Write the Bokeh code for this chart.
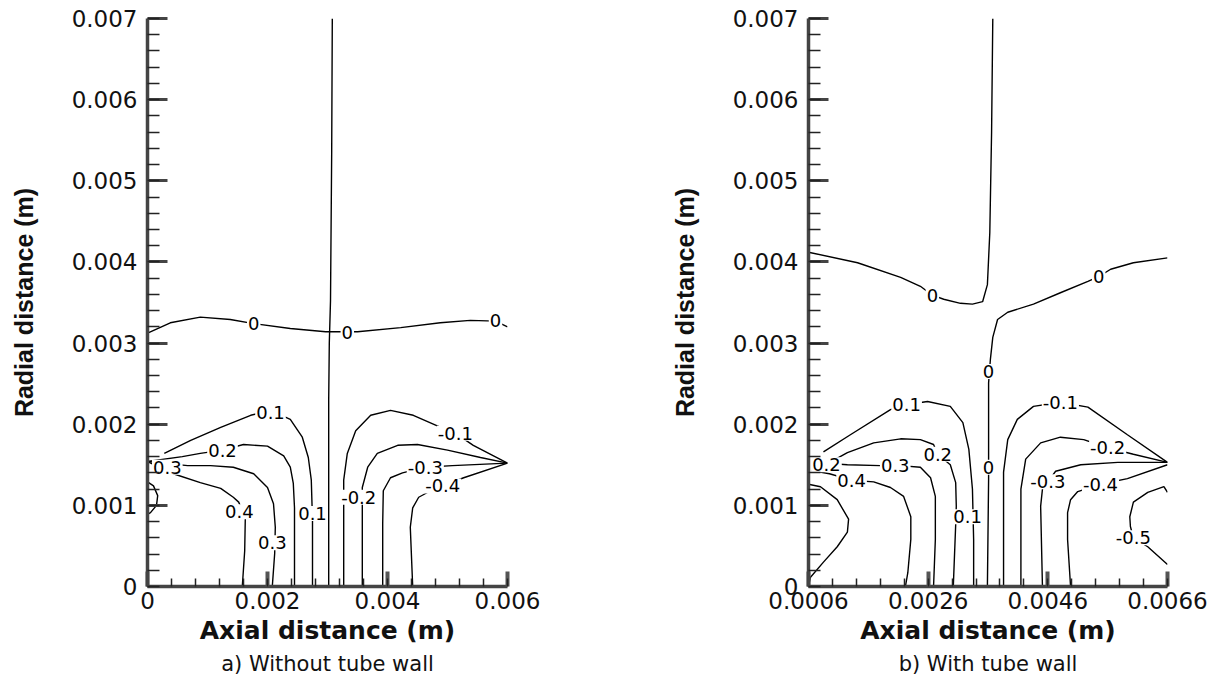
import numpy as np
from bokeh.plotting import figure
from bokeh.layouts import row
from bokeh.models import FixedTicker, Title, Range1d
from bokeh.core.properties import value
from bokeh.embed import file_html
from bokeh.resources import INLINE

MM = 1e-3  # all contour coordinates below are given in millimetres

# ---------------- Panel a) Without tube wall ----------------
A_ZERO_H_X = [0.02, 0.38, 0.88, 1.38, 1.77, 2.38, 2.97, 3.05, 3.5, 4.22, 4.88, 5.38, 5.8, 6.0]
A_ZERO_H_Y = [3.13, 3.25, 3.32, 3.29, 3.24, 3.18, 3.14, 3.14, 3.14, 3.19, 3.25, 3.28, 3.27, 3.20]
A_ZERO_V_X = [3.08, 3.07, 3.05, 3.03, 3.02, 3.02]
A_ZERO_V_Y = [7.0, 5.37, 3.52, 3.0, 2.29, 0.0]
A_P01_X = [0.28, 0.72, 1.22, 1.72, 2.05, 2.38, 2.58, 2.68, 2.73, 2.75, 2.75]
A_P01_Y = [1.64, 1.80, 1.96, 2.11, 2.17, 2.06, 1.84, 1.59, 1.31, 0.81, 0.0]
A_P02_X = [0.0, 0.58, 0.88, 1.25, 1.6, 2.0, 2.27, 2.38, 2.43, 2.45, 2.45]
A_P02_Y = [1.54, 1.60, 1.64, 1.68, 1.75, 1.73, 1.61, 1.47, 1.27, 0.97, 0.0]
A_P03_X = [0.0, 0.67, 1.05, 1.43, 1.77, 2.0, 2.1, 2.13, 2.12, 2.08]
A_P03_Y = [1.54, 1.49, 1.49, 1.47, 1.39, 1.22, 1.02, 0.73, 0.41, 0.0]
A_P04_X = [0.0, 0.43, 0.88, 1.22, 1.43, 1.52, 1.63, 1.62, 1.58]
A_P04_Y = [1.54, 1.39, 1.28, 1.21, 1.10, 1.04, 0.84, 0.44, 0.0]
A_P05_X = [0.0, 0.1, 0.17, 0.15, 0.05, 0.0]
A_P05_Y = [1.29, 1.24, 1.12, 1.0, 0.91, 0.89]
A_N01_X = [3.27, 3.27, 3.27, 3.33, 3.47, 3.72, 4.05, 4.43, 4.83, 5.13, 5.43, 6.0]
A_N01_Y = [0.0, 1.06, 1.31, 1.64, 1.92, 2.11, 2.17, 2.11, 1.98, 1.89, 1.74, 1.52]
A_N02_X = [3.58, 3.58, 3.58, 3.67, 3.83, 4.17, 4.5, 5.0, 5.55, 6.0]
A_N02_Y = [0.0, 1.0, 1.22, 1.47, 1.64, 1.74, 1.75, 1.68, 1.59, 1.52]
A_N03_X = [3.92, 3.92, 3.93, 4.05, 4.25, 4.63, 5.08, 6.0]
A_N03_Y = [0.0, 0.78, 1.18, 1.34, 1.40, 1.47, 1.49, 1.52]
A_N04_X = [4.42, 4.38, 4.42, 4.52, 4.72, 4.92, 5.27, 6.0]
A_N04_Y = [0.0, 0.73, 0.97, 1.10, 1.18, 1.24, 1.34, 1.52]
A_LAB_TEXT = ["0", "0", "0", "0.1", "0.1", "0.2", "0.3", "0.3", "0.4", "-0.1", "-0.2", "-0.3", "-0.4"]
A_LAB_X = [1.77, 3.33, 5.8, 2.05, 2.75, 1.25, 0.33, 2.08, 1.53, 5.13, 3.52, 4.63, 4.92]
A_LAB_Y = [3.24, 3.13, 3.28, 2.14, 0.90, 1.68, 1.47, 0.54, 0.92, 1.89, 1.10, 1.47, 1.24]

# ---------------- Panel b) With tube wall ----------------
B_ZERO_A_X = [0.6, 1.42, 2.14, 2.47, 2.67, 2.86, 3.14, 3.34, 3.51, 3.59, 3.63, 3.66, 3.68]
B_ZERO_A_Y = [4.12, 3.99, 3.81, 3.70, 3.59, 3.54, 3.49, 3.48, 3.51, 3.72, 4.36, 5.60, 7.0]
B_ZERO_B_X = [3.59, 3.61, 3.61, 3.61, 3.64, 3.68, 3.76, 3.93, 4.36, 4.81, 5.27, 5.45, 5.65, 6.03, 6.6]
B_ZERO_B_Y = [0.0, 1.32, 1.47, 2.51, 2.80, 3.07, 3.29, 3.38, 3.48, 3.62, 3.76, 3.82, 3.91, 3.99, 4.05]
B_P01_X = [0.85, 1.30, 1.97, 2.22, 2.59, 2.97, 3.18, 3.28, 3.34, 3.36, 3.36]
B_P01_Y = [1.66, 1.87, 2.18, 2.24, 2.28, 2.22, 2.02, 1.69, 1.20, 0.58, 0.0]
B_P02_X = [0.67, 0.88, 1.25, 1.69, 2.14, 2.47, 2.69, 2.76, 2.97, 3.06, 3.07, 3.06, 3.02]
B_P02_Y = [1.55, 1.50, 1.65, 1.77, 1.82, 1.81, 1.75, 1.63, 1.50, 1.28, 0.99, 0.76, 0.0]
B_P03_X = [0.67, 1.25, 1.80, 2.14, 2.47, 2.64, 2.72, 2.72, 2.69]
B_P03_Y = [1.53, 1.50, 1.49, 1.49, 1.47, 1.34, 1.11, 0.58, 0.0]
B_P04_X = [0.65, 0.95, 1.32, 1.69, 1.97, 2.19, 2.31, 2.31, 2.26, 2.22]
B_P04_Y = [1.43, 1.39, 1.31, 1.29, 1.22, 1.11, 0.86, 0.58, 0.17, 0.0]
B_P05_X = [0.6, 0.80, 1.08, 1.27, 1.25, 1.08, 0.85, 0.63, 0.6]
B_P05_Y = [1.26, 1.23, 1.07, 0.83, 0.67, 0.49, 0.30, 0.11, 0.0]
B_N01_X = [3.86, 3.86, 3.93, 4.09, 4.36, 4.81, 5.27, 5.93, 6.6]
B_N01_Y = [0.0, 1.41, 1.81, 2.06, 2.22, 2.27, 2.21, 1.87, 1.53]
B_N02_X = [4.15, 4.15, 4.23, 4.48, 4.81, 5.20, 5.60, 6.03, 6.6]
B_N02_Y = [0.0, 1.20, 1.57, 1.77, 1.84, 1.81, 1.71, 1.63, 1.53]
B_N03_X = [4.51, 4.48, 4.51, 4.60, 4.73, 5.15, 5.77, 6.6]
B_N03_Y = [0.0, 0.99, 1.20, 1.29, 1.42, 1.50, 1.53, 1.53]
B_N04_X = [4.98, 4.93, 4.93, 4.98, 5.10, 5.48, 5.93, 6.6]
B_N04_Y = [0.0, 0.58, 0.91, 1.07, 1.17, 1.26, 1.33, 1.50]
B_N05_X = [6.6, 6.54, 6.27, 6.03, 5.97, 5.98, 6.03, 6.27, 6.6]
B_N05_Y = [1.16, 1.23, 1.16, 1.04, 0.86, 0.74, 0.60, 0.49, 0.27]
B_LAB_TEXT = ["0", "0", "0", "0", "0.1", "0.1", "0.2", "0.2", "0.3", "0.4",
              "-0.1", "-0.2", "-0.3", "-0.4", "-0.5"]
B_LAB_X = [2.67, 5.45, 3.61, 3.61, 2.24, 3.26, 0.90, 2.76, 2.05, 1.32, 4.81, 5.60, 4.60, 5.48, 6.03]
B_LAB_Y = [3.59, 3.82, 2.65, 1.47, 2.24, 0.86, 1.50, 1.63, 1.49, 1.31, 2.27, 1.71, 1.29, 1.26, 0.60]

# ---------------- Axes ----------------
A_XTICKS = [0.0, 0.002, 0.004, 0.006]
A_XTICK_LABELS = ["0", "0.002", "0.004", "0.006"]
B_XTICKS = [0.0006, 0.0026, 0.0046, 0.0066]
B_XTICK_LABELS = ["0.0006", "0.0026", "0.0046", "0.0066"]
YTICKS = [0.0, 0.001, 0.002, 0.003, 0.004, 0.005, 0.006, 0.007]
YTICK_LABELS = ["0", "0.001", "0.002", "0.003", "0.004", "0.005", "0.006", "0.007"]

A_LINES = [(A_ZERO_H_X, A_ZERO_H_Y), (A_ZERO_V_X, A_ZERO_V_Y), (A_P01_X, A_P01_Y),
           (A_P02_X, A_P02_Y), (A_P03_X, A_P03_Y), (A_P04_X, A_P04_Y), (A_P05_X, A_P05_Y),
           (A_N01_X, A_N01_Y), (A_N02_X, A_N02_Y), (A_N03_X, A_N03_Y), (A_N04_X, A_N04_Y)]
B_LINES = [(B_ZERO_A_X, B_ZERO_A_Y), (B_ZERO_B_X, B_ZERO_B_Y), (B_P01_X, B_P01_Y),
           (B_P02_X, B_P02_Y), (B_P03_X, B_P03_Y), (B_P04_X, B_P04_Y), (B_P05_X, B_P05_Y),
           (B_N01_X, B_N01_Y), (B_N02_X, B_N02_Y), (B_N03_X, B_N03_Y), (B_N04_X, B_N04_Y),
           (B_N05_X, B_N05_Y)]

FONT = "DejaVu Sans"


def panel(x0, x1, xticks, xlabels, lines, lab_x, lab_y, lab_t, caption,
          border_left, frame_w, border_right):
    p = figure(x_range=Range1d(x0, x1), y_range=Range1d(0, 0.007),
               frame_width=frame_w, frame_height=568,
               min_border_left=border_left, min_border_right=border_right,
               min_border_top=18, min_border_bottom=104,
               output_backend="svg", toolbar_location=None)
    p.outline_line_color = None
    p.grid.visible = False
    p.background_fill_color = "white"
    p.border_fill_color = "white"

    xminor = list(np.round(np.arange(x0, x1 + 1e-9, 0.0004), 6))
    yminor = list(np.round(np.arange(0, 0.007 + 1e-9, 0.0002), 6))
    p.xaxis.ticker = FixedTicker(ticks=xticks, minor_ticks=xminor)
    p.yaxis.ticker = FixedTicker(ticks=YTICKS, minor_ticks=yminor)
    p.xaxis.major_label_overrides = {t: s for t, s in zip(xticks, xlabels)}
    p.yaxis.major_label_overrides = {t: s for t, s in zip(YTICKS, YTICK_LABELS)}

    for ax in (p.xaxis[0], p.yaxis[0]):
        ax.axis_line_width = 3.5
        ax.axis_line_color = "#444444"
        ax.major_tick_out = 0
        ax.minor_tick_out = 0
        ax.major_label_text_font = FONT
        ax.major_label_text_font_size = "23px"
        ax.major_label_text_color = "#111111"
        ax.axis_label_text_color = "#111111"
        ax.axis_label_text_font_style = "bold"

    p.xaxis.major_tick_in = 15
    p.xaxis.major_tick_line_width = 4
    p.xaxis.major_tick_line_color = "#555555"
    p.xaxis.minor_tick_in = 8
    p.xaxis.minor_tick_line_width = 1.5
    p.xaxis.minor_tick_line_color = "#222222"
    p.xaxis.major_label_standoff = 5
    p.xaxis.axis_label = "Axial distance (m)"
    p.xaxis.axis_label_text_font = FONT
    p.xaxis.axis_label_text_font_size = "25px"
    p.xaxis.axis_label_standoff = 4

    p.yaxis.major_tick_in = 20
    p.yaxis.major_tick_line_width = 3
    p.yaxis.major_tick_line_color = "#444444"
    p.yaxis.minor_tick_in = 12
    p.yaxis.minor_tick_line_width = 1.5
    p.yaxis.minor_tick_line_color = "#222222"
    p.yaxis.major_label_standoff = 10
    p.yaxis.axis_label = "Radial distance (m)"
    p.yaxis.axis_label_text_font = "Liberation Sans"
    p.yaxis.axis_label_text_font_size = "25px"
    p.yaxis.axis_label_standoff = 31

    for xs, ys in lines:
        p.line([v * MM for v in xs], [v * MM for v in ys], line_color="black", line_width=1.4)

    p.text(x=[v * MM for v in lab_x], y=[v * MM for v in lab_y], text=lab_t,
           text_align="center", text_baseline="middle",
           text_font=value(FONT), text_font_size="18px", text_color="black",
           background_fill_color="white", padding=1)

    p.add_layout(Title(text=caption, align="center", text_font=FONT,
                       text_font_size="21px", text_font_style="normal",
                       text_color="#111111", standoff=4), "below")
    return p


p1 = panel(0.0, 0.006, A_XTICKS, A_XTICK_LABELS, A_LINES, A_LAB_X, A_LAB_Y, A_LAB_TEXT,
           "a) Without tube wall", 147, 360, 100)
p2 = panel(0.0006, 0.0066, B_XTICKS, B_XTICK_LABELS, B_LINES, B_LAB_X, B_LAB_Y, B_LAB_TEXT,
           "b) With tube wall", 201, 359, 50)

layout = row(p1, p2)
open("out.html", "w").write(file_html(layout, INLINE))
